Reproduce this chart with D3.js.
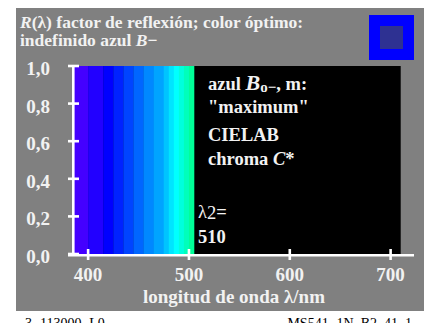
<!DOCTYPE html>
<html><head><meta charset="utf-8">
<script src="https://cdn.jsdelivr.net/npm/d3@7/dist/d3.min.js"></script>
<style>body{margin:0;background:#fff}svg{display:block}</style>
</head><body>
<script>
// Data
const bandEdges = [385, 400, 415, 425, 435, 445, 455, 465, 475, 480, 485, 490, 495, 500, 505];
const bandColors = ["#4400ff","#2200ff","#0000ff","#0022ff","#0044ff","#0066ff","#0088ff","#00a4ff","#00c4ff","#00e4ff","#00ffff","#00ffdd","#00ffbb","#00ff99"];
const bandReflectance = [1,1,1,1,1,1,1,1,1,1,1,1,1,1];
const xTicks = [400, 500, 600, 700];
const yTicks = [0, 0.2, 0.4, 0.6, 0.8, 1.0];
const yTickLabels = ["0,0","0,2","0,4","0,6","0,8","1,0"];
const xDomain = [385, 710];

const W = 424, H = 323;
const svg = d3.select("body").append("svg").attr("width", W).attr("height", H);
const x = d3.scaleLinear().domain(xDomain).range([73, 400.7]);
const y = d3.scaleLinear().domain([0, 1]).range([254, 66]);
const serif = "'Liberation Serif','DejaVu Serif',serif";
const txt = "#f2f2f2";

svg.append("rect").attr("x", 16).attr("y", 8).attr("width", W - 16).attr("height", 303).attr("fill", "#808080");

// colour patch
svg.append("rect").attr("x", 369).attr("y", 15).attr("width", 45).attr("height", 45).attr("fill", "#0000ff");
svg.append("rect").attr("x", 380).attr("y", 26).attr("width", 23).attr("height", 23).attr("fill", "#2e3192");

// plot background
svg.append("rect").attr("x", x(xDomain[0])).attr("y", y(1)).attr("width", x(xDomain[1]) - x(xDomain[0]))
  .attr("height", y(0) - y(1)).attr("fill", "#000");

// bands
svg.selectAll("rect.band").data(bandColors).enter().append("rect").attr("class", "band")
  .attr("x", (d, i) => x(bandEdges[i]))
  .attr("width", (d, i) => x(bandEdges[i + 1] !== undefined ? bandEdges[i + 1] : bandEdges[i] + 5) - x(bandEdges[i]) + 0.3)
  .attr("y", (d, i) => y(bandReflectance[i]))
  .attr("height", (d, i) => y(0) - y(bandReflectance[i]))
  .attr("fill", d => d);

// axes
const ax = svg.append("g").attr("stroke", "#fff").attr("stroke-width", 2.6);
ax.append("line").attr("x1", 73.3).attr("x2", 73.3).attr("y1", y(1) - 0.5).attr("y2", 256);
ax.append("line").attr("x1", 68).attr("x2", 414).attr("y1", 255.3).attr("y2", 255.3);
ax.selectAll("line.yt").data(yTicks).enter().append("line")
  .attr("x1", 68).attr("x2", 79).attr("y1", d => y(d)).attr("y2", d => y(d));
ax.selectAll("line.xt").data(xTicks).enter().append("line")
  .attr("x1", d => x(d)).attr("x2", d => x(d)).attr("y1", 249).attr("y2", 260);

const tl = svg.append("g").attr("font-family", serif).attr("font-weight", "bold").attr("fill", txt).attr("font-size", 19);
tl.selectAll("text.yl").data(yTicks).enter().append("text")
  .attr("x", 50).attr("y", d => y(d) + 9).attr("text-anchor", "end").text((d, i) => yTickLabels[i]);
tl.selectAll("text.xl").data(xTicks).enter().append("text")
  .attr("x", d => x(d)).attr("y", 281).attr("text-anchor", "middle").text(d => d);
tl.append("text").attr("x", 234).attr("y", 303).attr("text-anchor", "middle").text("longitud de onda λ/nm");

// title
const t1 = tl.append("text").attr("x", 20).attr("y", 27.5).attr("font-size", 17.5);
t1.append("tspan").attr("font-style", "italic").text("R");
t1.append("tspan").text("(λ) factor de reflexión; color óptimo:");
const t2 = tl.append("text").attr("x", 20).attr("y", 46).attr("font-size", 17.5);
t2.append("tspan").text("indefinido azul ");
t2.append("tspan").attr("font-style", "italic").text("B");
t2.append("tspan").text("−");

// inside box text
const bf = 18.5;
const b1 = tl.append("text").attr("x", 208).attr("y", 90).attr("font-size", bf);
b1.append("tspan").text("azul ");
b1.append("tspan").attr("font-style", "italic").attr("font-size", 22).text("B");
b1.append("tspan").attr("font-size", 15).attr("dy", 2).text("o−");
b1.append("tspan").attr("dy", -2).text(", m:");
tl.append("text").attr("x", 208).attr("y", 113).attr("font-size", bf).text("\"maximum\"");
tl.append("text").attr("x", 208).attr("y", 141).attr("font-size", bf).text("CIELAB");
const b4 = tl.append("text").attr("x", 208).attr("y", 165).attr("font-size", bf);
b4.append("tspan").text("chroma ");
b4.append("tspan").attr("font-style", "italic").text("C");
b4.append("tspan").text("*");
const b5 = tl.append("text").attr("x", 198).attr("y", 218).attr("font-size", bf);
b5.append("tspan").attr("font-weight", "normal").text("λ");
b5.append("tspan").attr("font-weight", "normal").attr("dy", 1).text("2");
b5.append("tspan").attr("dy", -1).text("=");
tl.append("text").attr("x", 198).attr("y", 243).attr("font-size", bf).text("510");

// footer
const ft = svg.append("g").attr("font-family", serif).attr("font-size", 14).attr("fill", "#000");
ft.append("text").attr("x", 25).attr("y", 327.5).text("3−113000−L0");
ft.append("text").attr("x", 412).attr("y", 327.5).attr("text-anchor", "end").text("MS541−1N_B2_41_1");
</script>
</body></html>
